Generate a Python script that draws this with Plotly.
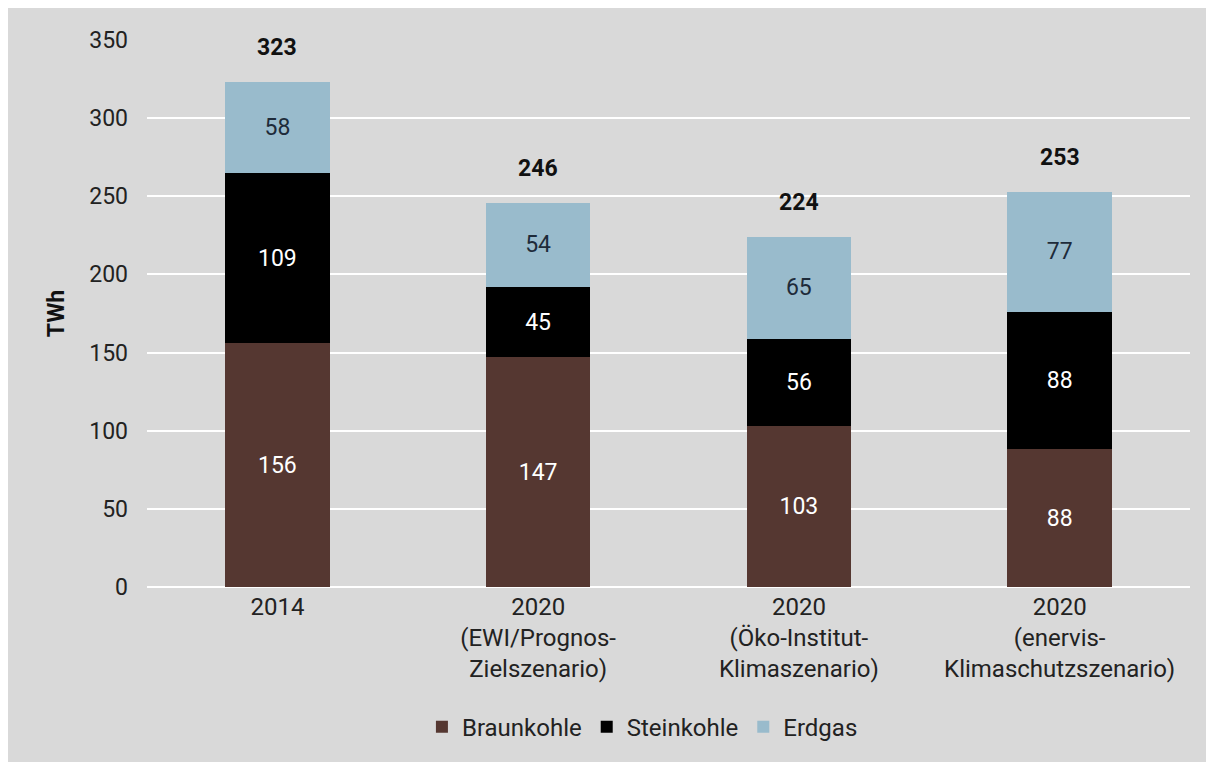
import plotly.graph_objects as go

categories = [
    "2014",
    "2020<br>(EWI/Prognos-<br>Zielszenario)",
    "2020<br>(Öko-Institut-<br>Klimaszenario)",
    "2020<br>(enervis-<br>Klimaschutzszenario)",
]
braunkohle = [156, 147, 103, 88]
steinkohle = [109, 45, 56, 88]
erdgas = [58, 54, 65, 77]
totals = [323, 246, 224, 253]

FONT = "Roboto"
BG = "#d9d9d9"
TXT = "#222222"
FS = 23

fig = go.Figure()
series = [
    ("Braunkohle", braunkohle, "#553731", "#ffffff"),
    ("Steinkohle", steinkohle, "#000000", "#ffffff"),
    ("Erdgas", erdgas, "#99bbcc", "#1e2b3a"),
]
for name, vals, col, tcol in series:
    fig.add_trace(go.Bar(
        name=name, x=categories, y=vals, marker=dict(color=col, line=dict(width=0)),
        text=[str(v) for v in vals], textposition="inside", insidetextanchor="middle",
        textangle=0, textfont=dict(color=tcol, size=FS, family=FONT),
    ))

for i, t in enumerate(totals):
    fig.add_annotation(x=i, y=t, xref="x", yref="y", text=f"<b>{t}</b>", showarrow=False,
                       yanchor="bottom", yshift=19,
                       font=dict(size=FS, color="#111111", family=FONT))

fig.update_layout(
    barmode="stack",
    bargap=0.6,
    width=1214, height=762,
    margin=dict(l=139, r=32, t=32, b=183),
    paper_bgcolor=BG, plot_bgcolor=BG,
    font=dict(family=FONT, size=FS, color=TXT),
    showlegend=True,
    legend=dict(orientation="h", x=0.475, xanchor="center", y=-0.256, yanchor="middle",
                traceorder="normal", font=dict(size=24, color=TXT), bgcolor="rgba(0,0,0,0)",
                itemwidth=30),
    xaxis=dict(type="category", showgrid=False, showline=False, ticks="", ticklabelstandoff=3,
               tickfont=dict(size=24, color=TXT, family=FONT)),
    yaxis=dict(range=[0, 350], dtick=50, showgrid=True, gridcolor="#ffffff", gridwidth=2,
               zeroline=True, zerolinecolor="#ffffff", zerolinewidth=2, showline=False,
               ticks="", ticklabelstandoff=18,
               tickfont=dict(size=FS, color=TXT, family=FONT),
               title=dict(text="<b>TWh</b>", standoff=18, font=dict(size=FS, color="#111111", family=FONT))),
)

fig.write_html("out.html")
